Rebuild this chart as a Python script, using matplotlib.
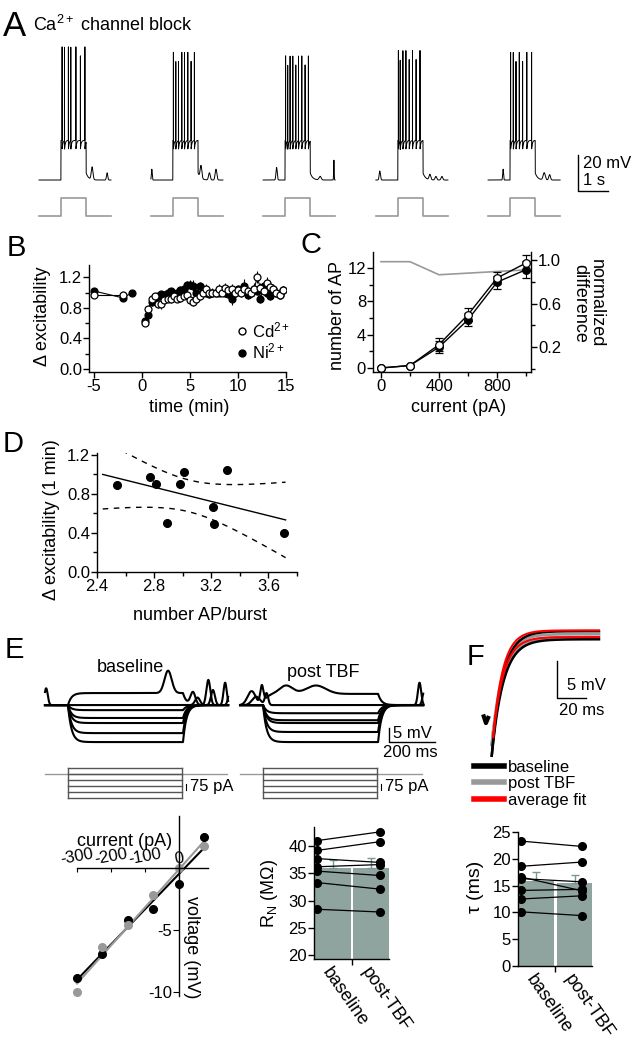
import numpy as np
import matplotlib.pyplot as plt
from matplotlib.lines import Line2D
from matplotlib.ticker import MultipleLocator

plt.rcParams['font.family'] = ['Liberation Sans', 'DejaVu Sans']
plt.rcParams['mathtext.fontset'] = 'custom'
plt.rcParams['mathtext.rm'] = 'Liberation Sans'
plt.rcParams['mathtext.it'] = 'Liberation Sans:italic'
plt.rcParams['axes.unicode_minus'] = False
plt.rcParams['axes.linewidth'] = 1.0

W, H = 642, 1050
BAR = '#8fa39f'
GREY = '#999999'

# ---------------- data ----------------
# A: five sweeps (s), spike times after step onset (s), spike peaks (mV), small bumps (s, mV, width s)
sweep_start = [0.0, 3.73, 7.47, 11.23, 14.97]
step_on, step_off, sweep_len = 0.73, 1.57, 2.4
spike_times = [
    [0.04, 0.12, 0.25, 0.33, 0.50, 0.65, 0.80],
    [0.02, 0.10, 0.19, 0.30, 0.39, 0.50, 0.61, 0.72],
    [0.02, 0.09, 0.17, 0.26, 0.36, 0.45, 0.56, 0.67, 0.78],
    [0.02, 0.08, 0.17, 0.27, 0.38, 0.49, 0.61, 0.74],
    [0.02, 0.11, 0.20, 0.31, 0.42, 0.56, 0.72],
]
spike_peak = [76, 73, 71, 74, 73]
bumps_A = [
    [(1.77, 7, 0.04), (2.27, 4, 0.03)],
    [(0.03, 6, 0.02), (1.67, 7, 0.04), (1.95, 4, 0.04), (2.17, 6, 0.04)],
    [(0.45, 7, 0.03), (1.9, 2, 0.05), (2.36, 11, 0.012)],
    [(0.13, 5, 0.03), (1.8, 3, 0.04), (2.0, 2, 0.04), (2.2, 2, 0.04)],
    [(0.5, 6, 0.02), (1.87, 4, 0.05), (2.05, 3, 0.04)],
]

# B: excitability over time
t_pre_ni = [-5, -2, -1]
ni_pre = [1.02, 0.93, 1.00]
t_pre_cd = [-5, -2]
cd_pre = [0.97, 0.97]
t_post = np.round(np.arange(1, 45) / 3, 2)
ni_post = [0.63, 0.70, 0.88, 0.92, 0.95, 0.98, 0.97, 1.00, 1.02, 0.98, 1.00, 1.03,
           1.05, 1.10, 1.10, 1.08, 1.00, 1.08, 1.05, 1.00, 0.98, 1.00, 1.00, 1.00,
           1.02, 1.00, 0.98, 0.92, 1.00, 1.05, 1.03, 1.08, 0.97, 1.00, 1.05, 1.02,
           0.92, 1.08, 1.00, 0.95, 1.05, 1.00, 0.97, 1.03]
cd_post = [0.60, 0.79, 0.92, 0.95, 0.85, 0.85, 0.90, 0.92, 0.92, 0.96, 0.92, 0.93,
           0.96, 0.97, 0.90, 0.88, 0.92, 0.95, 1.00, 1.05, 1.00, 1.00, 1.00, 1.05,
           1.00, 1.06, 1.03, 1.05, 1.00, 1.03, 1.00, 1.05, 1.02, 1.00, 1.04, 1.20,
           1.06, 1.02, 1.13, 1.07, 1.05, 1.00, 0.97, 1.03]
ni_err = [0.03, 0.04, 0.05, 0.06, 0.05, 0.04, 0.05, 0.06, 0.04, 0.05, 0.04, 0.05,
          0.06, 0.05, 0.06, 0.08, 0.05, 0.06, 0.05, 0.04, 0.05, 0.06, 0.04, 0.05,
          0.05, 0.06, 0.05, 0.08, 0.06, 0.05, 0.04, 0.10, 0.05, 0.06, 0.07, 0.05,
          0.06, 0.05, 0.06, 0.05, 0.06, 0.05, 0.04, 0.05]
cd_err = [0.03, 0.04, 0.05, 0.04, 0.05, 0.06, 0.05, 0.05, 0.06, 0.05, 0.04, 0.05,
          0.05, 0.06, 0.05, 0.05, 0.06, 0.05, 0.05, 0.06, 0.05, 0.04, 0.05, 0.06,
          0.05, 0.06, 0.05, 0.06, 0.05, 0.05, 0.06, 0.05, 0.05, 0.06, 0.05, 0.08,
          0.06, 0.05, 0.07, 0.06, 0.05, 0.05, 0.04, 0.05]

# C: number of AP vs current
current_C = [0, 200, 400, 600, 800, 1000]
ap_cd = [0.0, 0.3, 2.8, 6.4, 10.8, 12.6]
ap_ni = [0.0, 0.3, 2.5, 5.8, 10.3, 11.8]
ap_cd_err = [0.0, 0.1, 0.8, 0.8, 0.7, 1.0]
ap_ni_err = [0.0, 0.1, 0.7, 0.8, 0.8, 1.0]
norm_diff = [0.985, 0.985, 0.865, 0.88, 0.895, 0.91]

# D: excitability at 1 min vs APs per burst
ap_burst = [2.54, 2.77, 2.81, 2.89, 2.98, 3.01, 3.21, 3.22, 3.31, 3.71]
exc_1min = [0.89, 0.97, 0.90, 0.50, 0.90, 1.03, 0.67, 0.49, 1.05, 0.40]

# E: step responses (mV) and IV
levels_base = [4.3, 0, -1.8, -4.6, -6.4, -10.0, -13.2]
levels_post = [4.0, 0, -2.9, -5.4, -6.4, -9.6, -13.2]
stim_levels = [75, 0, -75, -150, -225, -300]
bumps_base = [(535, 8, 22, 0), (5, 6, 10, 0), (643, 4.5, 15, 1), (710, 9, 12, 1), (783, 8, 10, 1)]
bumps_post = [(200, 3, 40, 0), (330, 3, 60, 0), (50, 5, 25, 1), (95, 7, 10, 1), (780, 8, 10, 1)]
iv_current = [-300, -225, -150, -75, 0, 75]
iv_base = [-8.9, -6.9, -4.2, -3.3, -1.3, 2.5]
iv_post = [-10.0, -6.4, -4.6, -2.2, 0.0, 1.8]
rn_base = [41.0, 39.2, 37.7, 36.2, 35.4, 33.3, 28.4]
rn_post = [42.6, 40.8, 37.0, 36.6, 34.6, 32.1, 27.9]
groups = ['baseline', 'post-TBF']

# F: membrane charging and time constants
f_plateau_black = [16.3, 15.2]
f_plateau_grey = [15.9, 15.5]
f_plateau_fit = [16.4, 15.5]
f_tau_trace = [7.5, 8.0]
tau_base = [23.3, 18.6, 16.6, 16.3, 14.1, 12.5, 10.1]
tau_post = [22.3, 19.4, 14.0, 15.7, 14.3, 13.1, 9.4]


# ---------------- helpers ----------------
def rect(x0, y0, x1, y1):
    return [x0 / W, 1 - y1 / H, (x1 - x0) / W, (y1 - y0) / H]


def px(x, y):
    return (x / W, 1 - y / H)


def style(ax):
    for s in ['top', 'right']:
        ax.spines[s].set_visible(False)
    ax.tick_params(direction='out', length=4, width=1, labelsize=12, pad=1)
    ax.tick_params(which='minor', length=3, width=1)
    ax.patch.set_alpha(0)


def sweep_trace(spikes, peak, bumps):
    t = np.arange(0, sweep_len, 0.0005)
    v = np.zeros_like(t)
    during = (t >= step_on) & (t < step_off)
    v[during] = 22
    after = t >= step_off
    v[after] += 4 * np.exp(-(t[after] - step_off) / 0.08)
    for s in spikes:
        ts = step_on + s
        v += (peak - 24) * np.clip(1 - np.abs(t - ts) / 0.002, 0, None)
        ahp = (t > ts) & during
        v[ahp] -= 5 * np.exp(-(t[ahp] - ts) / 0.025)
    for tb, amp, w in bumps:
        v += amp * np.exp(-((t - tb) / w) ** 2)
    return t, v


def step_response(t, level, on, off, tau=15.0):
    v = np.zeros_like(t)
    d = (t >= on) & (t < off)
    v[d] = level * (1 - np.exp(-(t[d] - on) / tau))
    a = t >= off
    v_end = level * (1 - np.exp(-(off - on) / tau))
    v[a] = v_end * np.exp(-(t[a] - off) / tau)
    return v


fig = plt.figure(figsize=(6.42, 10.5), dpi=100)

for lab, x, y, size in [('A', 3, 36, 25), ('B', 7, 256, 21), ('C', 301, 253, 21),
                        ('D', 3, 452, 21), ('E', 5, 658, 21), ('F', 467, 665, 21)]:
    fig.text(*px(x, y), lab, fontsize=size, va='baseline', ha='left')
fig.text(*px(33, 31), 'Ca$^{2+}$ channel block', fontsize=13, va='baseline')

# ---------------- A ----------------
axA = fig.add_axes(rect(0, 40, 642, 225))
axA.axis('off')
axA.set_xlim(-1.3, 20.1)
axA.set_ylim(-25, 77.8)
for start, spikes, peak, bl in zip(sweep_start, spike_times, spike_peak, bumps_A):
    t, v = sweep_trace(spikes, peak, bl)
    axA.plot(start + t, v, color='k', lw=0.7)
    axA.plot(start + np.array([0, step_on, step_on, step_off, step_off, sweep_len]),
             [-20, -20, -10, -10, -20, -20], color=GREY, lw=1.2)
axA.plot([17.97, 17.97, 18.97], [13.9, -6.1, -6.1], color='k', lw=1)
axA.text(18.13, 8.9, '20 mV', fontsize=12, va='center')
axA.text(18.13, -0.5, '1 s', fontsize=12, va='center')

# ---------------- B ----------------
axB = fig.add_axes(rect(89, 265, 286, 372))
style(axB)
axB.set_xlim(-5.52, 15)
axB.set_ylim(-0.04, 1.36)
kw = dict(fmt='-o', color='k', ms=5, lw=0.8, elinewidth=0.8, capsize=0, mew=0.9)
axB.errorbar(t_pre_ni, ni_pre, yerr=0.03, mfc='k', **kw)
axB.errorbar(t_post, ni_post, yerr=ni_err, mfc='k', **kw)
axB.errorbar(t_pre_cd, cd_pre, yerr=0.03, mfc='white', **kw)
axB.errorbar(t_post, cd_post, yerr=cd_err, mfc='white', **kw)
axB.set_xticks([-5, 0, 5, 10, 15])
axB.set_yticks([0.0, 0.4, 0.8, 1.2])
axB.yaxis.set_minor_locator(MultipleLocator(0.2))
axB.yaxis.set_major_formatter(plt.FormatStrFormatter('%.1f'))
handles = [Line2D([], [], ls='none', marker='o', color='k', mfc='white', ms=5),
           Line2D([], [], ls='none', marker='o', color='k', mfc='k', ms=5)]
axB.legend(handles, ['Cd$^{2+}$', 'Ni$^{2+}$'], loc='lower right',
           bbox_to_anchor=px(298, 370), bbox_transform=fig.transFigure,
           frameon=False, handletextpad=0.1, labelspacing=0.1, borderpad=0,
           handlelength=0.9, fontsize=12)
fig.text(*px(43, 316), 'Δ excitability', rotation=90, ha='center', va='center', fontsize=13)
fig.text(*px(189, 407), 'time (min)', ha='center', va='center', fontsize=13)

# ---------------- C ----------------
axC = fig.add_axes(rect(373, 252, 531, 372))
axC2 = axC.twinx()
style(axC)
axC2.patch.set_alpha(0)
for s in ['top', 'left', 'bottom']:
    axC2.spines[s].set_visible(False)
axC2.tick_params(direction='out', length=4, width=1, labelsize=12, pad=1)
axC2.tick_params(which='minor', length=3, width=1)
axC.set_zorder(axC2.get_zorder() + 1)
axC.patch.set_visible(False)
axC.set_xlim(-55, 1034)
axC.set_ylim(-0.48, 13.92)
axC2.set_ylim(-0.028, 1.074)
axC2.plot(current_C, norm_diff, color=GREY, lw=1.2)
ekw = dict(fmt='-o', color='k', ms=5.5, lw=1, elinewidth=0.8, capsize=3, capthick=0.8, mew=0.9)
axC.errorbar(current_C, ap_ni, yerr=ap_ni_err, mfc='k', **ekw)
axC.errorbar(current_C, ap_cd, yerr=ap_cd_err, mfc='white', **ekw)
axC.set_xticks([0, 400, 800])
axC.xaxis.set_minor_locator(MultipleLocator(200))
axC.set_yticks([0, 4, 8, 12])
axC.yaxis.set_minor_locator(MultipleLocator(2))
axC2.set_yticks([0.2, 0.6, 1.0])
axC2.set_yticks([0.0, 0.4, 0.8], minor=True)
axC2.yaxis.set_major_formatter(plt.FormatStrFormatter('%.1f'))
fig.text(*px(337, 315), 'number of AP', rotation=90, ha='center', va='center', fontsize=13)
fig.text(*px(588, 303), 'normalized\ndifference', rotation=-90, ha='center', va='center',
         fontsize=13, linespacing=1.0)
fig.text(*px(459, 407), 'current (pA)', ha='center', va='center', fontsize=13)

# ---------------- D ----------------
axD = fig.add_axes(rect(97, 453, 297, 572))
style(axD)
axD.set_xlim(2.4, 3.8)
axD.set_ylim(0, 1.22)
x_arr = np.array(ap_burst)
y_arr = np.array(exc_1min)
slope, icpt = np.polyfit(x_arr, y_arr, 1)
n = len(x_arr)
resid = y_arr - (slope * x_arr + icpt)
s_err = np.sqrt(np.sum(resid ** 2) / (n - 2))
xf = np.linspace(2.44, 3.72, 100)
yf = slope * xf + icpt
half = 2.306 * s_err * np.sqrt(1 / n + (xf - x_arr.mean()) ** 2 / np.sum((x_arr - x_arr.mean()) ** 2))
axD.plot(xf, yf, color='k', lw=1)
axD.plot(xf, yf + half, color='k', lw=1, ls=(0, (4, 4)))
axD.plot(xf, yf - half, color='k', lw=1, ls=(0, (4, 4)))
axD.plot(x_arr, y_arr, 'o', color='k', ms=5.5)
axD.set_xticks([2.4, 2.8, 3.2, 3.6])
axD.xaxis.set_minor_locator(MultipleLocator(0.2))
axD.set_yticks([0.0, 0.4, 0.8, 1.2])
axD.yaxis.set_minor_locator(MultipleLocator(0.2))
axD.yaxis.set_major_formatter(plt.FormatStrFormatter('%.1f'))
fig.text(*px(52, 520), 'Δ excitability (1 min)', rotation=90, ha='center', va='center', fontsize=13)
fig.text(*px(200, 616), 'number AP/burst', ha='center', va='center', fontsize=13)

# ---------------- E traces ----------------
axE = fig.add_axes(rect(40, 660, 440, 760))
axE.axis('off')
axE.set_xlim(-21.7, 1717)
axE.set_ylim(-19.6, 16.1)
tE = np.linspace(0, 796, 1600)
for offset, levels, bumps in [(0, levels_base, bumps_base), (848, levels_post, bumps_post)]:
    for i, lev in enumerate(levels):
        v = step_response(tE, lev, 100, 600)
        if i == 0:
            for tb, amp, w, _ in bumps:
                v = v + amp * np.exp(-((tE - tb) / w) ** 2)
        elif i == 1:
            for tb, amp, w, late in bumps:
                if late:
                    v = v + 0.6 * amp * np.exp(-((tE - tb - 20) / w) ** 2)
        axE.plot(offset + tE, v, color='k', lw=1.5)
axE.plot([1496, 1496, 1696], [-8.2, -13.2, -13.2], color='k', lw=1)
axE.text(1513, -10.3, '5 mV', fontsize=12, va='center')
axE.text(1590, -17.0, '200 ms', fontsize=12, va='center', ha='center')
axE.text(370, 13.6, 'baseline', fontsize=13, ha='center', va='center')
axE.text(1209, 11.6, 'post TBF', fontsize=13, ha='center', va='center')

axS = fig.add_axes(rect(40, 762, 440, 802))
axS.axis('off')
axS.set_xlim(-21.7, 1717)
axS.set_ylim(-350, 150)
for offset in [0, 848]:
    axS.plot([offset, offset + 791], [0, 0], color=GREY, lw=1)
    for lev in stim_levels:
        axS.plot([offset + 100, offset + 596], [lev, lev], color='#555555', lw=1)
    for edge in [100, 596]:
        axS.plot([offset + edge] * 2, [max(stim_levels), min(stim_levels)], color='#555555', lw=1)
    axS.plot([offset + 613] * 2, [-200, -125], color='k', lw=0.8)
    axS.text(offset + 632, -160, '75 pA', fontsize=12, va='center')

# ---------------- E IV ----------------
axIV = fig.add_axes(rect(60, 800, 215, 1000))
axIV.patch.set_alpha(0)
axIV.set_xlim(-350, 105.9)
axIV.set_ylim(-10.65, 5.48)
axIV.spines['right'].set_visible(False)
axIV.spines['bottom'].set_visible(False)
axIV.spines['left'].set_position(('data', 0))
axIV.spines['top'].set_position(('data', 0))
axIV.spines['left'].set_bounds(-10.35, 4.2)
axIV.spines['top'].set_bounds(-300, 85)
axIV.xaxis.tick_top()
axIV.set_xticks([-300, -200, -100, 0])
axIV.set_yticks([-5, -10])
axIV.tick_params(axis='x', direction='in', length=3, labelsize=12, pad=1, labelrotation=10)
axIV.tick_params(axis='y', direction='out', length=4, labelsize=12, pad=1)
for vals, col in [(iv_base, 'k'), (iv_post, GREY)]:
    b1, b0 = np.polyfit(iv_current, vals, 1)
    xx = np.array([iv_current[0], iv_current[-1]])
    axIV.plot(xx, b1 * xx + b0, color=col, lw=1.5)
for vals, col in [(iv_base, 'k'), (iv_post, GREY)]:
    axIV.plot(iv_current, vals, 'o', color=col, ms=5.5)
axIV.text(-159, 2.1, 'current (pA)', fontsize=13, ha='center', va='center')
fig.text(*px(192, 947), 'voltage (mV)', rotation=-90, ha='center', va='center', fontsize=13)


def paired_bars(ax, base, post, xlim, pts_x):
    style(ax)
    means = [np.mean(base), np.mean(post)]
    sems = [np.std(base, ddof=1) / np.sqrt(len(base)), np.std(post, ddof=1) / np.sqrt(len(post))]
    ax.bar([0, 1], means, width=0.94, color=BAR, zorder=1)
    ax.errorbar([0, 1], means, yerr=[[0, 0], sems], fmt='none', ecolor='#7a9696',
                elinewidth=1, capsize=3, capthick=1, zorder=2)
    for b, p in zip(base, post):
        ax.plot(pts_x, [b, p], '-o', color='k', ms=5.5, lw=0.9, zorder=3)
    ax.set_xlim(*xlim)
    ax.set_xticks([0, 1], groups, rotation=-55, ha='left', rotation_mode='anchor', fontsize=13)
    ax.tick_params(axis='x', which='major', length=0, pad=4)
    ax.set_xticks([0.5], minor=True)
    ax.tick_params(axis='x', which='minor', length=4)


# ---------------- E R_N ----------------
axR = fig.add_axes(rect(314, 827, 389, 959))
paired_bars(axR, rn_base, rn_post, (-0.49, 1.46), [-0.41, 1.22])
axR.set_ylim(19.27, 43.5)
axR.set_yticks([20, 25, 30, 35, 40])
fig.text(*px(269, 893), 'R$_\\mathregular{N}$ (MΩ)', rotation=90, ha='center', va='center', fontsize=13)

# ---------------- F traces ----------------
axF = fig.add_axes(rect(470, 620, 610, 760))
axF.axis('off')
axF.set_xlim(-9, 87.6)
axF.set_ylim(-1.08, 17.8)
tF = np.linspace(6, 80, 300)
axF.plot([0.5, 2.0, 3.5], [4.8, 3.9, 4.6], color='k', lw=3)
for plat, tau in zip(f_plateau_grey, f_tau_trace):
    axF.plot(tF, 1 + (plat - 1) * (1 - np.exp(-(tF - 6) / tau)), color=GREY, lw=2)
for plat, tau in zip(f_plateau_black, f_tau_trace):
    axF.plot(tF, -0.5 + (plat + 0.5) * (1 - np.exp(-(tF - 6) / tau)), color='k', lw=1.8)
tFit = np.linspace(7, 80, 300)
for plat, tau in zip(f_plateau_fit, f_tau_trace):
    axF.plot(tFit, 2 + (plat - 2) * (1 - np.exp(-(tFit - 7) / (tau * 0.9))), color='red', lw=1.5)
axF.plot([51, 51, 71], [12.3, 7.3, 7.3], color='k', lw=1)
axF.text(58, 8.9, '5 mV', fontsize=12, va='center')
axF.text(52.4, 5.6, '20 ms', fontsize=12, va='center')
fhandles = [Line2D([], [], color='k', lw=4), Line2D([], [], color=GREY, lw=4),
            Line2D([], [], color='red', lw=4)]
axF.legend(fhandles, ['baseline', 'post TBF', 'average fit'], loc='upper left',
           bbox_to_anchor=px(474, 760), bbox_transform=fig.transFigure, frameon=False,
           handlelength=1.8, handletextpad=0.25, labelspacing=0.08, borderpad=0,
           borderaxespad=0, fontsize=12)

# ---------------- F tau ----------------
axT = fig.add_axes(rect(518, 832, 592, 966))
paired_bars(axT, tau_base, tau_post, (-0.47, 1.45), [-0.39, 1.2])
axT.set_ylim(0, 25)
axT.set_yticks([0, 5, 10, 15, 20, 25])
fig.text(*px(475, 887), 'τ (ms)', rotation=90, ha='center', va='center', fontsize=14)

fig.savefig('out.png', dpi=100)
